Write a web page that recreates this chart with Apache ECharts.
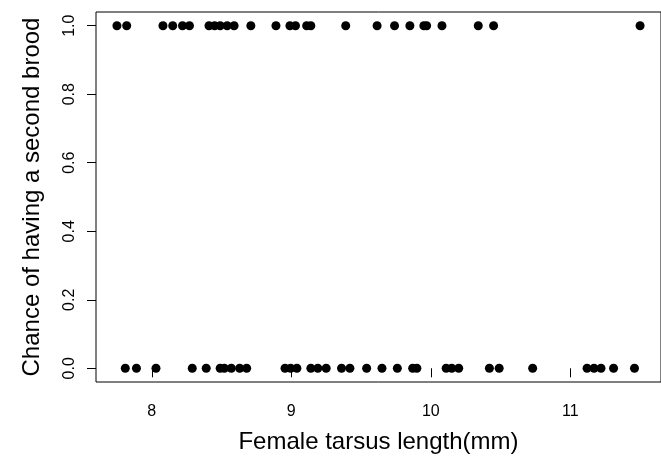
<!DOCTYPE html>
<html>
<head>
<meta charset="utf-8">
<script src="https://cdn.jsdelivr.net/npm/echarts@6.0.0/dist/echarts.min.js"></script>
<style>
html,body{margin:0;padding:0;background:#fff;}
#chart{width:661px;height:468px;}
</style>
</head>
<body>
<div id="chart"></div>
<script>
// Female tarsus length (mm) of females that had a second brood (y = 1)
var tarsusBrood = [7.75, 7.82, 8.08, 8.15, 8.22, 8.27, 8.41, 8.45, 8.49, 8.54, 8.59, 8.71, 8.89, 8.99, 9.03, 9.11, 9.14, 9.39, 9.615, 9.74, 9.85, 9.95, 9.97, 10.08, 10.34, 10.45, 11.50];
// Female tarsus length (mm) of females without a second brood (y = 0)
var tarsusNoBrood = [7.81, 7.89, 8.03, 8.29, 8.39, 8.49, 8.52, 8.57, 8.63, 8.68, 8.955, 8.995, 9.04, 9.14, 9.19, 9.25, 9.36, 9.42, 9.54, 9.65, 9.76, 9.87, 9.90, 10.11, 10.15, 10.20, 10.42, 10.49, 10.73, 11.12, 11.17, 11.22, 11.31, 11.46];
var outcomeBrood = 1;
var outcomeNoBrood = 0;
var xTicks = [8, 9, 10, 11];
var yTicks = [0, 0.2, 0.4, 0.6, 0.8, 1.0];
var xTitle = 'Female tarsus length(mm)';
var yTitle = 'Chance of having a second brood';

var points = tarsusBrood.map(function (x) { return [x, outcomeBrood]; })
  .concat(tarsusNoBrood.map(function (x) { return [x, outcomeNoBrood]; }));

var font = 'Liberation Sans, Arial, sans-serif';
var chart = echarts.init(document.getElementById('chart'), null, {renderer: 'canvas'});
chart.setOption({
  animation: false,
  backgroundColor: '#ffffff',
  grid: {left: 96, right: -12, top: 12, bottom: 86, show: true, borderColor: '#000', borderWidth: 1, backgroundColor: 'transparent'},
  xAxis: {
    type: 'value', min: 7.6, max: 11.65,
    splitLine: {show: false},
    axisLine: {show: false},
    axisTick: {show: true, inside: false, length: 9, lineStyle: {color: '#000', width: 1}, customValues: xTicks},
    axisLabel: {customValues: xTicks, margin: 22, color: '#000', fontSize: 16, fontFamily: font},
    name: xTitle, nameLocation: 'middle', nameGap: 48,
    nameTextStyle: {color: '#000', fontSize: 24, fontFamily: font}
  },
  yAxis: {
    type: 'value', min: -0.04, max: 1.04,
    splitLine: {show: false},
    axisLine: {show: false},
    axisTick: {show: true, inside: false, length: 9, lineStyle: {color: '#000', width: 1}, customValues: yTicks},
    axisLabel: {customValues: yTicks, rotate: 90, margin: 18, color: '#000', fontSize: 16, fontFamily: font,
      formatter: function (v) { return Number(v).toFixed(1); }},
    name: yTitle, nameLocation: 'middle', nameGap: 52, nameRotate: 90,
    nameTextStyle: {color: '#000', fontSize: 24, fontFamily: font}
  },
  series: [{
    type: 'scatter',
    data: points,
    symbol: 'circle',
    symbolSize: 9,
    itemStyle: {color: '#000', opacity: 1},
    silent: true
  }]
});
</script>
</body>
</html>
